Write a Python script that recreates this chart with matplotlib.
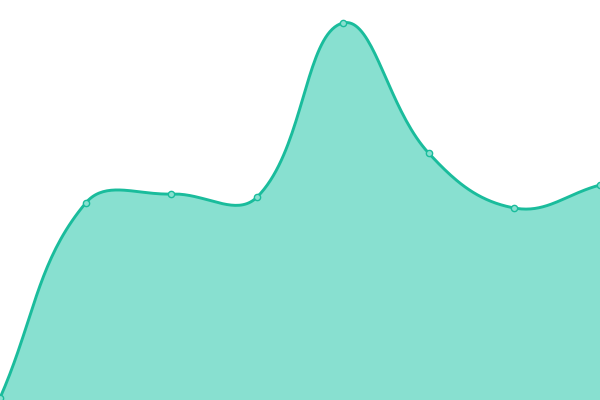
import numpy as np
import matplotlib
matplotlib.use('Agg')
import matplotlib.pyplot as plt

# values (axis range 0..400)
x_vals = [0, 1, 2, 3, 4, 5, 6, 7]
y_vals = [2, 197, 206, 203, 377, 247, 192, 215]

LINE = '#1abc9c'
FILL = '#88e0d0'
TENSION = 0.4


def spline_path(ax, xs, ys, tension=TENSION, steps=40):
    # bezier control points weighted by neighbour distances, in screen space
    pts = ax.transData.transform(np.column_stack([xs, ys]))
    n = len(pts)
    cps = []
    for i in range(n):
        p = pts[i]
        prev = pts[i - 1] if i > 0 else p
        nxt = pts[i + 1] if i < n - 1 else p
        d01 = np.hypot(*(p - prev))
        d12 = np.hypot(*(nxt - p))
        tot = d01 + d12
        s01 = d01 / tot if tot else 0
        s12 = d12 / tot if tot else 0
        v = nxt - prev
        cps.append((p - tension * s01 * v, p + tension * s12 * v))
    out = [pts[0]]
    t = np.linspace(0, 1, steps)[1:, None]
    for i in range(n - 1):
        p0, p3 = pts[i], pts[i + 1]
        c1, c2 = cps[i][1], cps[i + 1][0]
        seg = ((1 - t) ** 3 * p0 + 3 * (1 - t) ** 2 * t * c1
               + 3 * (1 - t) * t ** 2 * c2 + t ** 3 * p3)
        out.extend(seg)
    data = ax.transData.inverted().transform(np.array(out))
    return data[:, 0], data[:, 1]


fig = plt.figure(figsize=(6, 4), dpi=100)
ax = fig.add_axes([0, 0, 1, 1])
ax.set_xlim(0, 7)
ax.set_ylim(0, 400)
ax.axis('off')

sx, sy = spline_path(ax, x_vals, y_vals)
ax.fill_between(sx, sy, 0, color=FILL, lw=0)
ax.plot(sx, sy, color=LINE, lw=2.1, solid_capstyle='round')
ax.plot(x_vals, y_vals, 'o', ms=4.5, mfc=FILL, mec=LINE, mew=1)

fig.savefig('out.png', dpi=100)
